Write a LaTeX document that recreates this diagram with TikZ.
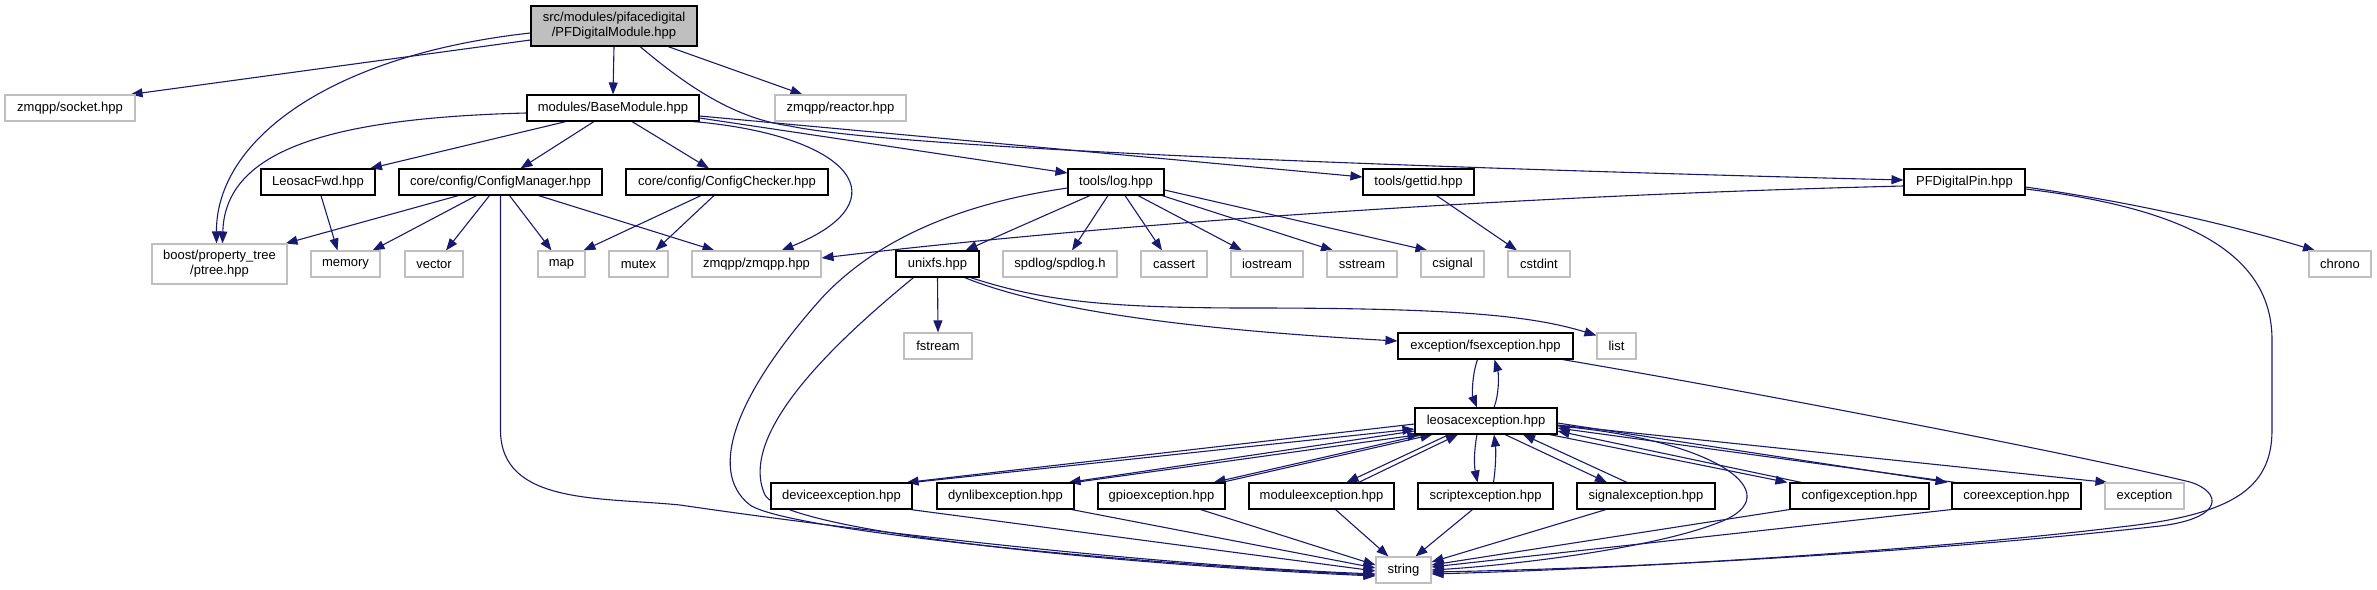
\documentclass[tikz,border=0pt]{standalone}
\usepackage{fontspec}
\setmainfont{Liberation Sans}
\usetikzlibrary{arrows.meta,backgrounds}
\definecolor{midblue}{HTML}{191970}
\definecolor{grey75}{HTML}{BFBFBF}
\tikzset{
  nbox/.style={rectangle, inner sep=0pt, minimum height=26pt, font=\fontsize{13}{15}\selectfont, text=black, fill=white, line width=1.1pt},
  inc/.style={nbox, draw=black},
  ext/.style={nbox, draw=grey75},
  rootbox/.style={nbox, draw=black, fill=grey75, minimum height=40pt, align=center},
  dep/.style={draw=midblue, line width=1.1pt, -{Triangle[length=12pt,width=9pt]}},
}
\begin{document}
\begin{tikzpicture}[x=1pt,y=-1pt]
\useasboundingbox (0,0) rectangle (2377,589);
% nodes
\node[rootbox, minimum width=166pt] (M) at (614,26) {src/modules/pifacedigital\\/PFDigitalModule.hpp};
\node[ext, minimum width=130pt] (socket) at (70,108) {zmqpp/socket.hpp};
\node[inc, minimum width=172pt] (B) at (613,108) {modules/BaseModule.hpp};
\node[ext, minimum width=131pt] (reactor) at (840.5,108) {zmqpp/reactor.hpp};
\node[inc, minimum width=114pt] (Lfwd) at (318,182) {LeosacFwd.hpp};
\node[inc, minimum width=203pt] (CM) at (500.5,182) {core/config/ConfigManager.hpp};
\node[inc, minimum width=202pt] (CC) at (727,182) {core/config/ConfigChecker.hpp};
\node[inc, minimum width=96pt] (log) at (1116,182) {tools/log.hpp};
\node[inc, minimum width=111pt] (gettid) at (1418.5,182) {tools/gettid.hpp};
\node[inc, minimum width=121pt] (pin) at (1964.5,182) {PFDigitalPin.hpp};
\node[ext, minimum width=135pt, minimum height=40pt, align=center] (ptree) at (219.5,264) {boost/property\_tree\\/ptree.hpp};
\node[ext, minimum width=69pt] (memory) at (345.5,264) {memory};
\node[ext, minimum width=58pt] (vector) at (434,264) {vector};
\node[ext, minimum width=47pt] (map) at (561.5,264) {map};
\node[ext, minimum width=59pt] (mutex) at (638.5,264) {mutex};
\node[ext, minimum width=129pt] (zmqpp) at (756.5,264) {zmqpp/zmqpp.hpp};
\node[inc, minimum width=83pt] (unixfs) at (937.5,264) {unixfs.hpp};
\node[ext, minimum width=114pt] (spdlog) at (1060,264) {spdlog/spdlog.h};
\node[ext, minimum width=66pt] (cassert) at (1174,264) {cassert};
\node[ext, minimum width=72pt] (iostream) at (1267,264) {iostream};
\node[ext, minimum width=70pt] (sstream) at (1362,264) {sstream};
\node[ext, minimum width=63pt] (csignal) at (1452.5,264) {csignal};
\node[ext, minimum width=62pt] (cstdint) at (1539,264) {cstdint};
\node[ext, minimum width=62pt] (chrono) at (2340,264) {chrono};
\node[ext, minimum width=68pt] (fstream) at (938,346) {fstream};
\node[inc, minimum width=175pt] (fsexc) at (1485.5,346) {exception/fsexception.hpp};
\node[ext, minimum width=39pt] (list) at (1616.5,346) {list};
\node[inc, minimum width=142pt] (LE) at (1486,421) {leosacexception.hpp};
\node[inc, minimum width=141pt] (device) at (841.5,496) {deviceexception.hpp};
\node[inc, minimum width=137pt] (dynlib) at (1005.5,496) {dynlibexception.hpp};
\node[inc, minimum width=127pt] (gpio) at (1161.5,496) {gpioexception.hpp};
\node[inc, minimum width=145pt] (module) at (1321.5,496) {moduleexception.hpp};
\node[inc, minimum width=135pt] (script) at (1485.5,496) {scriptexception.hpp};
\node[inc, minimum width=138pt] (signal) at (1646,496) {signalexception.hpp};
\node[inc, minimum width=139pt] (config) at (1859.5,496) {configexception.hpp};
\node[inc, minimum width=129pt] (core) at (2016.5,496) {coreexception.hpp};
\node[ext, minimum width=79pt] (exception) at (2144.5,496) {exception};
\node[ext, minimum width=55pt] (string) at (1403.5,570) {string};
% edges
\begin{scope}[on background layer]
% PFDigitalModule
\draw[dep] ([yshift=-14pt]M.west) -- ([xshift=-5pt]socket.north east);
\draw[dep] ([yshift=-7pt]M.west) .. controls (330,55) and (216,140) .. ([xshift=-3pt]ptree.north);
\draw[dep] (M.south) -- (B.north);
\draw[dep] ([xshift=54pt]M.south) -- ([xshift=-38pt]reactor.north);
\draw[dep] ([xshift=26pt]M.south) .. controls (680,80) and (730,118) .. (790,126) .. controls (900,150) and (1500,170) .. ([yshift=2pt]pin.west);
% BaseModule
\draw[dep] ([yshift=-5pt]B.west) .. controls (330,118) and (225,150) .. ([xshift=3pt]ptree.north);
\draw[dep] ([xshift=-47pt]B.south) -- ([xshift=52pt]Lfwd.north);
\draw[dep] ([xshift=-19pt]B.south) -- ([xshift=20pt]CM.north);
\draw[dep] ([xshift=19pt]B.south) -- ([xshift=-18pt]CC.north);
\draw[dep] ([xshift=80pt]B.south) .. controls (850,135) and (905,200) .. ([xshift=25pt]zmqpp.north);
\draw[dep] ([yshift=-10pt]B.east) -- ([yshift=9pt]log.west);
\draw[dep] ([yshift=-8pt]B.east) -- ([yshift=5pt]gettid.west);
% ConfigManager
\draw[dep] ([xshift=-42pt]CM.south) -- ([xshift=-2pt]ptree.north east);
\draw[dep] ([xshift=-24pt]CM.south) -- ([xshift=-8pt]memory.north east);
\draw[dep] ([xshift=-11pt]CM.south) -- ([xshift=12pt]vector.north);
\draw[dep] ([xshift=9pt]CM.south) -- ([xshift=-10pt]map.north);
\draw[dep] ([xshift=38pt]CM.south) -- ([xshift=-42pt]zmqpp.north);
\draw[dep] (CM.south) -- (500.5,430) .. controls (500.5,505) and (600,497) .. (680,505) .. controls (850,530) and (1150,565) .. ([yshift=-4pt]string.west);
% LeosacFwd, ConfigChecker
\draw[dep] ([xshift=3pt]Lfwd.south) -- ([xshift=-8pt]memory.north);
\draw[dep] ([xshift=-26pt]CC.south) -- ([xshift=22pt]map.north);
\draw[dep] ([xshift=-13pt]CC.south) -- ([xshift=17pt]mutex.north);
% log
\draw[dep] ([xshift=-26pt]log.south) -- ([xshift=28pt]unixfs.north);
\draw[dep] ([xshift=-8pt]log.south) -- ([xshift=12pt]spdlog.north);
\draw[dep] ([xshift=9pt]log.south) -- ([xshift=-12pt]cassert.north);
\draw[dep] ([xshift=22pt]log.south) -- ([xshift=-25pt]iostream.north);
\draw[dep] ([xshift=46pt]log.south) -- ([xshift=-29pt]sstream.north);
\draw[dep] ([yshift=-8pt]log.east) -- ([xshift=-25pt]csignal.north);
\draw[dep] ([yshift=-6pt]log.west) .. controls (950,205) and (870,245) .. (820,300) .. controls (740,390) and (705,470) .. (750,505) .. controls (790,532) and (1150,565) .. ([yshift=-5pt]string.west);
% gettid
\draw[dep] ([xshift=18pt]gettid.south) -- ([xshift=-22pt]cstdint.north);
% PFDigitalPin
\draw[dep] ([yshift=-4pt]pin.west) .. controls (1500,196) and (1100,225) .. ([yshift=6pt]zmqpp.east);
\draw[dep] ([yshift=-5pt]pin.east) .. controls (2150,205) and (2240,228) .. ([xshift=-25pt]chrono.north);
\draw[dep] ([yshift=-7pt]pin.east) .. controls (2200,210) and (2272,260) .. (2272,340) -- (2272,430) .. controls (2272,490) and (2230,515) .. (2120,527) .. controls (1950,548) and (1650,568) .. ([yshift=-4pt]string.east);
% unixfs
\draw[dep] (unixfs.south) -- (fstream.north);
\draw[dep] ([xshift=27pt]unixfs.south) .. controls (1050,312) and (1200,330) .. ([yshift=5pt]fsexc.west);
\draw[dep] ([xshift=33pt]unixfs.south) .. controls (1040,300) and (1100,308) .. (1250,308) .. controls (1450,308) and (1530,315) .. ([yshift=-3pt]list.north west);
\draw[dep] ([xshift=-24pt]unixfs.south) .. controls (850,330) and (735,430) .. (765,495) .. controls (790,535) and (1150,566) .. ([yshift=-6pt]string.west);
% fsexception
\draw[dep] ([xshift=-8pt]fsexc.south) .. controls (1472,375) and (1472,395) .. ([xshift=-9pt]LE.north);
\draw[dep] ([xshift=-11pt]fsexc.south east) .. controls (1800,400) and (2100,460) .. (2190,482) .. controls (2222,492) and (2225,518) .. (2160,526) .. controls (1950,550) and (1650,568) .. ([yshift=-2pt]string.east);
% leosacexception
\draw[dep] ([xshift=8pt]LE.north) .. controls (1499,395) and (1499,375) .. ([xshift=9pt]fsexc.south);
\draw[dep] ([yshift=-4pt]LE.east) -- ([xshift=3pt]exception.north west);
\draw[dep] ([yshift=-5pt]LE.east) .. controls (1720,440) and (1790,495) .. (1720,522) .. controls (1650,550) and (1500,566) .. (string.east);
\draw[dep] ([yshift=-3pt]LE.west) -- ([xshift=-6pt]device.north east);
\draw[dep] (device.north east) -- ([yshift=-8pt]LE.west);
\draw[dep] ([yshift=-10pt]LE.west) -- ([xshift=-6pt]dynlib.north east);
\draw[dep] (dynlib.north east) -- ([xshift=5pt]LE.south west);
\draw[dep] ([xshift=9pt]LE.south west) -- ([xshift=-12pt]gpio.north east);
\draw[dep] ([xshift=-4pt]gpio.north east) -- ([xshift=18pt]LE.south west);
\draw[dep] ([xshift=-37pt]LE.south) -- ([xshift=25pt]module.north);
\draw[dep] ([xshift=37pt]module.north) -- ([xshift=-28pt]LE.south);
\draw[dep] ([xshift=-9pt]LE.south) .. controls (1474,450) and (1474,465) .. ([xshift=-8pt]script.north);
\draw[dep] ([xshift=8pt]script.north) .. controls (1496,465) and (1496,450) .. ([xshift=8pt]LE.south);
\draw[dep] ([xshift=19pt]LE.south) -- ([xshift=-39pt]signal.north);
\draw[dep] ([xshift=-19pt]signal.north) -- ([xshift=37pt]LE.south);
\draw[dep] ([xshift=-8pt]LE.south east) -- ([xshift=-2pt]config.north west);
\draw[dep] ([xshift=12pt]config.north west) -- ([yshift=-10pt]LE.east);
\draw[dep] ([yshift=-2pt]LE.east) -- ([xshift=-4pt]core.north west);
\draw[dep] ([xshift=4pt]core.north west) -- ([yshift=-7pt]LE.east);
% exceptions -> string
\draw[dep] ([xshift=-2pt]device.south east) -- ([yshift=-1pt]string.west);
\draw[dep] ([xshift=-3pt]dynlib.south east) -- ([yshift=2pt]string.west);
\draw[dep] ([xshift=-25pt]gpio.south east) -- ([yshift=5pt]string.west);
\draw[dep] ([xshift=14pt]module.south) -- ([xshift=-15pt]string.north);
\draw[dep] ([xshift=-13pt]script.south) -- ([xshift=12pt]string.north);
\draw[dep] ([xshift=-40pt]signal.south) -- ([yshift=8pt]string.east);
\draw[dep] (config.south west) -- ([yshift=5pt]string.east);
\draw[dep] (core.south west) -- ([yshift=3pt]string.east);
\end{scope}
\end{tikzpicture}
\end{document}
